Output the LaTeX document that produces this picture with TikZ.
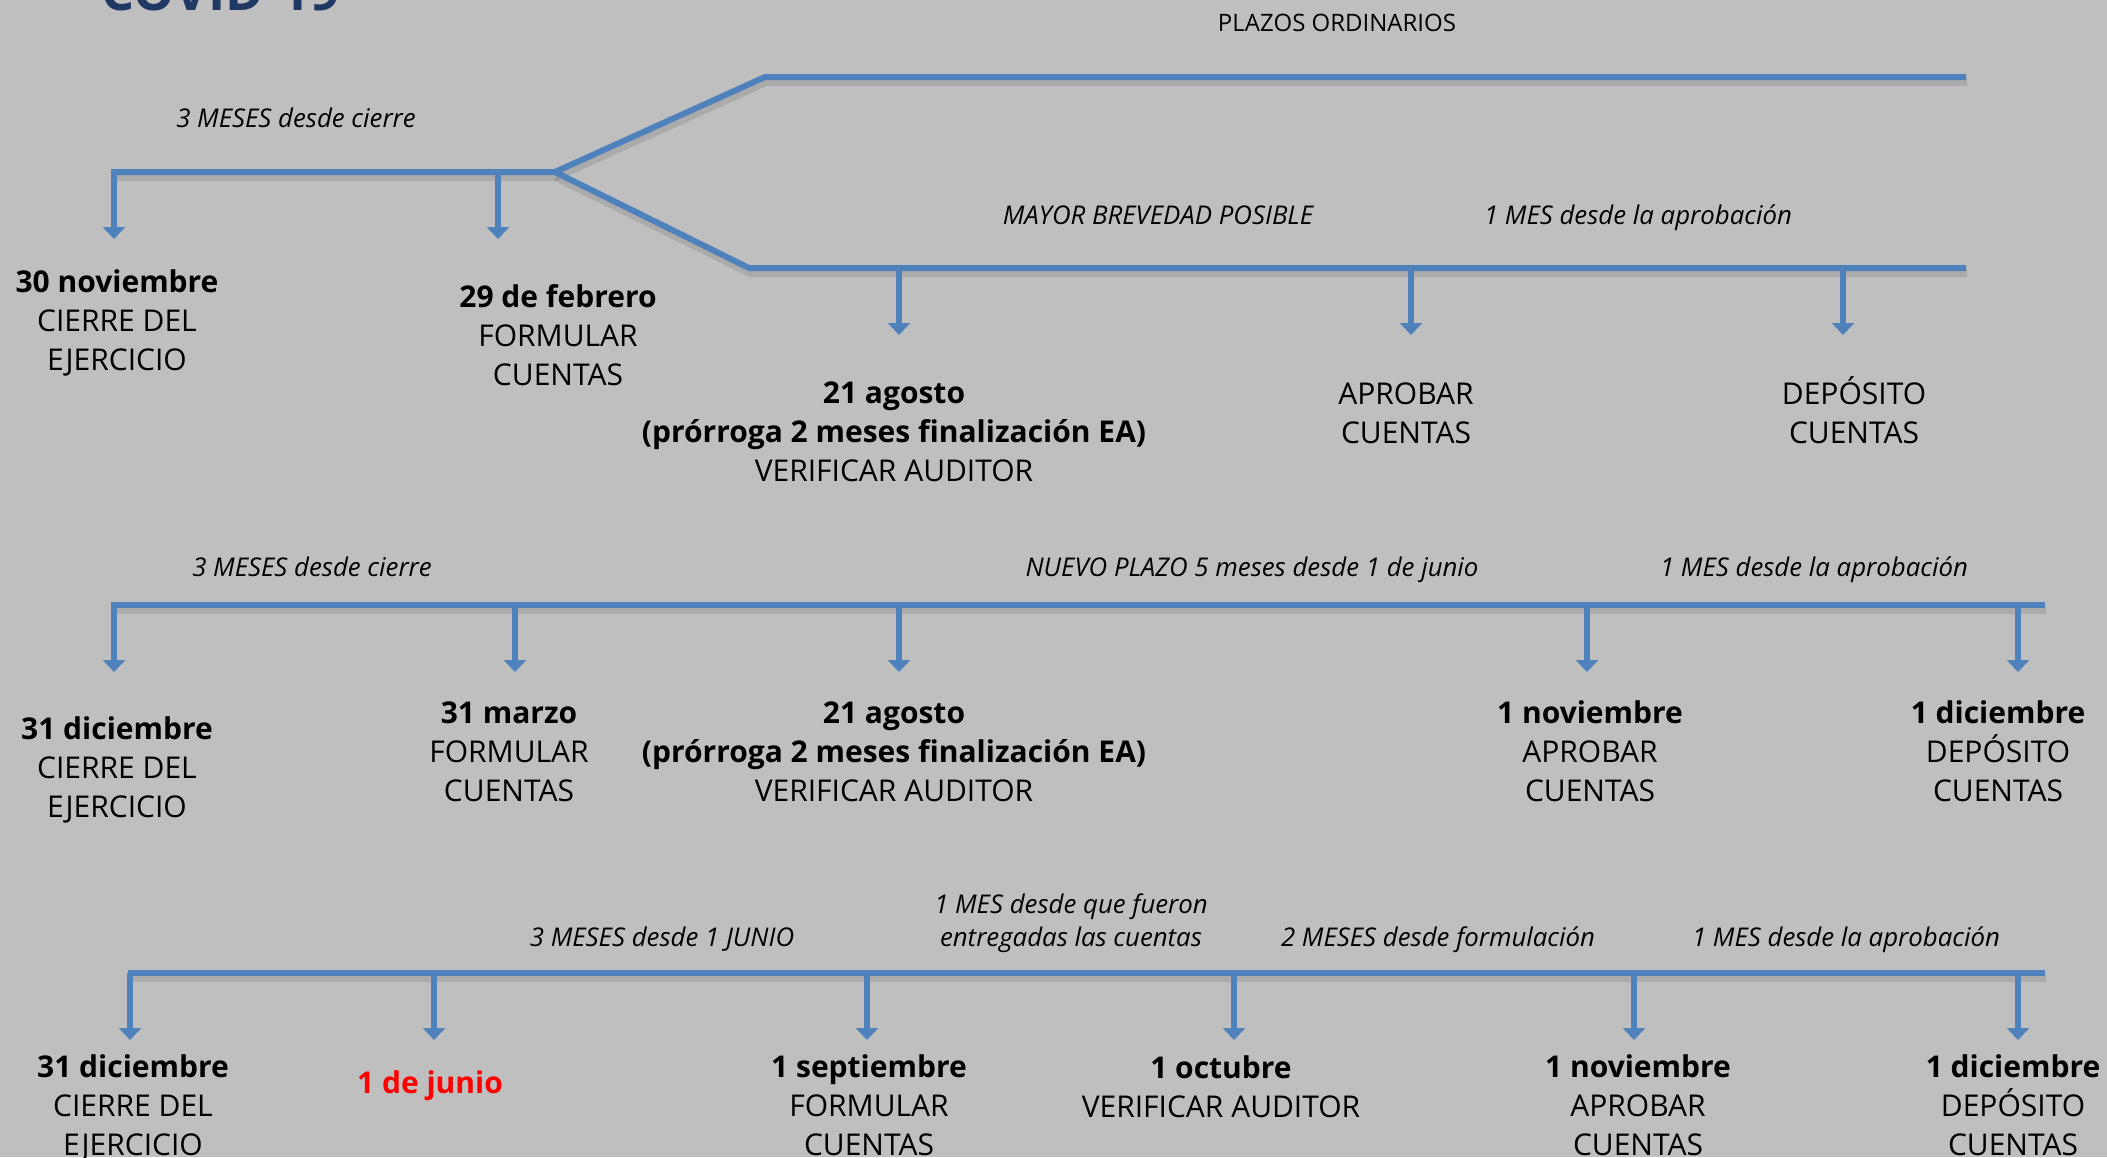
\documentclass[tikz,border=0pt]{standalone}
\usepackage{amsmath,amssymb}
\usepackage{fontspec}
\setmainfont{Open Sans}
\usetikzlibrary{arrows.meta}
\definecolor{bgGray}{RGB}{191,191,191}
\definecolor{lineBlue}{RGB}{79,129,189}
\definecolor{titleNavy}{RGB}{31,56,100}

\begin{document}
\begin{tikzpicture}[x=0.5pt,y=0.5pt,yscale=-1,xscale=1,
  tline/.style={draw=lineBlue,line width=3pt,line join=miter,
    preaction={draw=black,opacity=0.1,line width=4pt,transform canvas={shift={(0.5pt,-2.5pt)}}}},
  tarrow/.style={draw=lineBlue,line width=3pt,-{Triangle[width=11pt,length=6pt]}},
  datelbl/.style={align=center,anchor=base,inner sep=0pt,font=\fontsize{15}{19.3}\selectfont},
  spanlbl/.style={align=center,anchor=base,inner sep=0pt,font=\fontsize{12.9}{16.5}\selectfont\itshape}]
%set diagram area 2107 x 1157 (multi-line nodes sit on the baseline of their last line)
\clip (0,0) rectangle (2107,1157);
\fill [bgGray] (0,0) rectangle (2107,1157);

% Title
\node (title) [anchor=base,inner sep=0pt,text=titleNavy,font=\fontsize{26}{30}\selectfont\bfseries] at (221,10) {COVID-19};

%Timeline 1 (ordinary terms)
\coordinate (l1s) at (111,172);
\coordinate (l1b) at (555,172);
\coordinate (l1u) at (765,77);
\coordinate (l1ue) at (1966,77);
\coordinate (l1l) at (749,268);
\coordinate (l1le) at (1966,268);
\draw [tline] (l1s) -- (l1b) -- (l1u) -- (l1ue);
\draw [tline] (l1b) -- (l1l) -- (l1le);
%Straight Lines (arrows)
\foreach \n/\xx/\yy/\ye in {a/114/172/239, b/498/172/239, c/899/268/335, d/1411/268/335, e/1843/268/335}{
  \coordinate (p1\n) at (\xx,\yy);
  \coordinate (q1\n) at (\xx,\ye);
  \draw [tarrow] (p1\n) -- (q1\n);
}

% Text Node
\node (plazos) [anchor=base,inner sep=0pt,font=\fontsize{12}{14}\selectfont] at (1337,31) {PLAZOS ORDINARIOS};
% Text Node
\node (s1a) [spanlbl] at (296,127) {3 MESES desde cierre};
% Text Node
\node (s1b) [spanlbl] at (1158,224) {MAYOR BREVEDAD POSIBLE};
% Text Node
\node (s1c) [spanlbl] at (1638,224) {1 MES desde la aprobación};
% Text Node
\node (d1a) [datelbl] at (117,370) {\textbf{30 noviembre}\\CIERRE DEL\\EJERCICIO};
% Text Node
\node (d1b) [datelbl] at (558,385) {\textbf{29 de febrero}\\FORMULAR\\CUENTAS};
% Text Node
\node (d1c) [datelbl] at (894,481) {\textbf{21 agosto}\\\textbf{(prórroga 2 meses finalización EA)}\\VERIFICAR AUDITOR};
% Text Node
\node (d1d) [datelbl] at (1406,443) {APROBAR\\CUENTAS};
% Text Node
\node (d1e) [datelbl] at (1854,443) {DEPÓSITO\\CUENTAS};

%Timeline 2 (Real Decreto-ley)
\coordinate (l2s) at (111,605);
\coordinate (l2e) at (2045,605);
\draw [tline] (l2s) -- (l2e);
%Straight Lines (arrows)
\foreach \n/\xx in {a/114, b/515, c/899, d/1587, e/2018}{
  \coordinate (p2\n) at (\xx,605);
  \coordinate (q2\n) at (\xx,672);
  \draw [tarrow] (p2\n) -- (q2\n);
}

% Text Node
\node (s2a) [spanlbl] at (312,576) {3 MESES desde cierre};
% Text Node
\node (s2b) [spanlbl] at (1252,576) {NUEVO PLAZO 5 meses desde 1 de junio};
% Text Node
\node (s2c) [spanlbl] at (1814,576) {1 MES desde la aprobación};
% Text Node
\node (d2a) [datelbl] at (117,817) {\textbf{31 diciembre}\\CIERRE DEL\\EJERCICIO};
% Text Node
\node (d2b) [datelbl] at (509,801) {\textbf{31 marzo}\\FORMULAR\\CUENTAS};
% Text Node
\node (d2c) [datelbl] at (894,801) {\textbf{21 agosto}\\\textbf{(prórroga 2 meses finalización EA)}\\VERIFICAR AUDITOR};
% Text Node
\node (d2d) [datelbl] at (1590,801) {\textbf{1 noviembre}\\APROBAR\\CUENTAS};
% Text Node
\node (d2e) [datelbl] at (1998,801) {\textbf{1 diciembre}\\DEPÓSITO\\CUENTAS};

%Timeline 3 (not yet formulated)
\coordinate (l3s) at (128,973);
\coordinate (l3e) at (2045,973);
\draw [tline] (l3s) -- (l3e);
%Straight Lines (arrows)
\foreach \n/\xx in {a/130, b/434, c/867, d/1234, e/1634, f/2018}{
  \coordinate (p3\n) at (\xx,973);
  \coordinate (q3\n) at (\xx,1040);
  \draw [tarrow] (p3\n) -- (q3\n);
}

% Text Node
\node (s3a) [spanlbl] at (662,946) {3 MESES desde 1 JUNIO};
% Text Node
\node (s3b) [spanlbl] at (1071,946) {1 MES desde que fueron\\entregadas las cuentas};
% Text Node
\node (s3c) [spanlbl] at (1438,946) {2 MESES desde formulación};
% Text Node
\node (s3d) [spanlbl] at (1846,946) {1 MES desde la aprobación};
% Text Node
\node (d3a) [datelbl] at (133,1155) {\textbf{31 diciembre}\\CIERRE DEL\\EJERCICIO};
% Text Node
\node (d3b) [datelbl,text=red] at (430,1093) {\textbf{1 de junio}};
% Text Node
\node (d3c) [datelbl] at (869,1155) {\textbf{1 septiembre}\\FORMULAR\\CUENTAS};
% Text Node
\node (d3d) [datelbl] at (1221,1117) {\textbf{1 octubre}\\VERIFICAR AUDITOR};
% Text Node
\node (d3e) [datelbl] at (1638,1155) {\textbf{1 noviembre}\\APROBAR\\CUENTAS};
% Text Node
\node (d3f) [datelbl] at (2013,1155) {\textbf{1 diciembre}\\DEPÓSITO\\CUENTAS};

\end{tikzpicture}
\end{document}
